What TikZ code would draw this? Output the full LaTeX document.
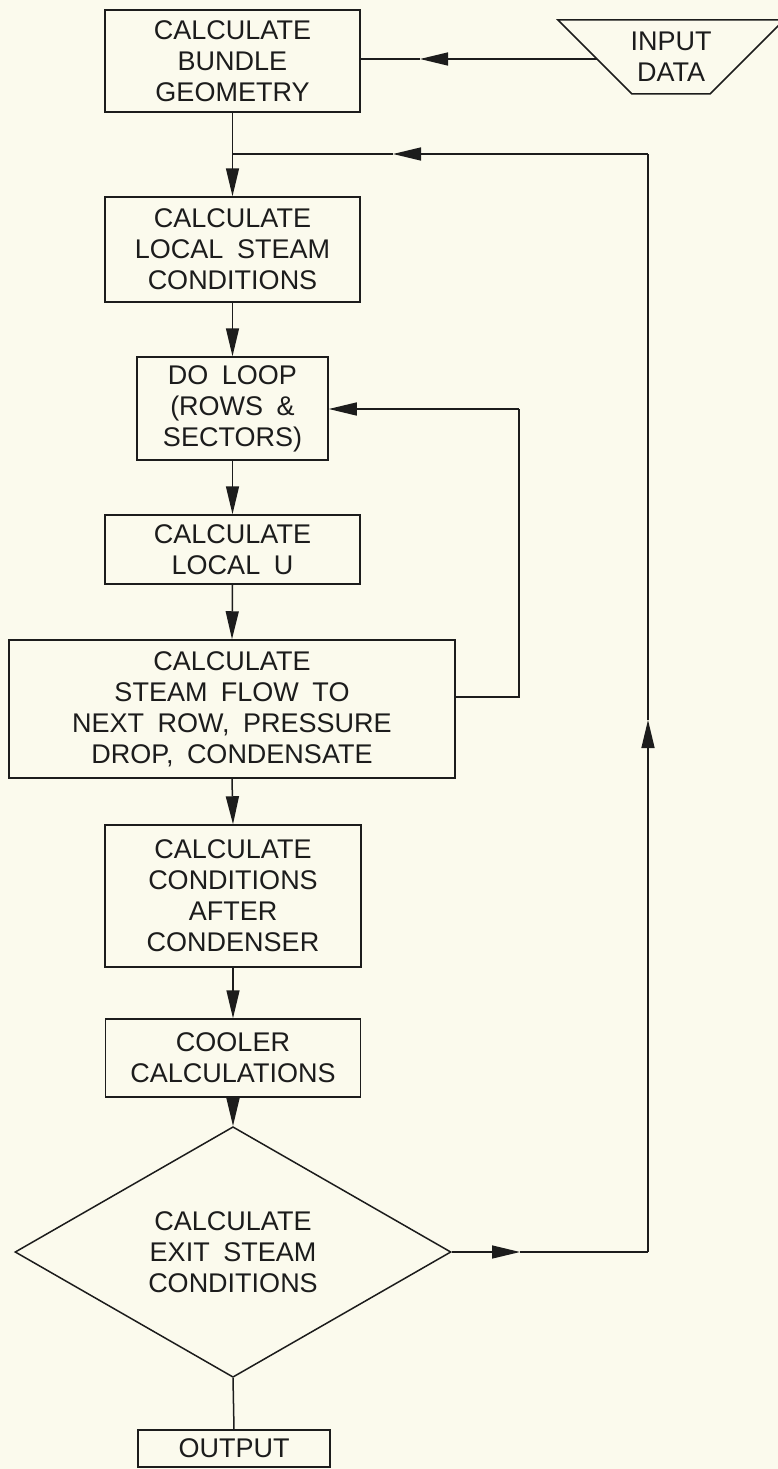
\documentclass[tikz,border=0pt]{standalone}
\usepackage{fontspec}
\setmainfont{Liberation Sans}
\usetikzlibrary{arrows.meta,shapes.geometric}
\definecolor{paper}{RGB}{251,250,237}
\definecolor{ink}{RGB}{28,28,28}
\newcommand{\lblfont}{\fontsize{27}{31}\selectfont\spaceskip=0.5em plus 0.1em minus 0.05em}
\begin{document}
\begin{tikzpicture}[x=1pt,y=-1pt,
  box/.style={draw=ink, line width=1.5pt, align=center, inner sep=0pt, text=ink, font=\lblfont},
  lbl/.style={align=center, inner sep=0pt, text=ink, font=\lblfont},
  arr/.style={draw=ink, line width=1.5pt, -{Triangle[length=28pt,width=13pt]}},
  ln/.style={draw=ink, line width=1.5pt}]
\fill[paper] (0,0) rectangle (778,1469);
\useasboundingbox (0,0) rectangle (778,1469);

% boxes
\node[box, minimum width=255pt, minimum height=102pt] (b1) at (232.5,61) {CALCULATE\\BUNDLE\\GEOMETRY};
\node[box, minimum width=255pt, minimum height=105pt] (b2) at (232.5,249.5) {CALCULATE\\LOCAL STEAM\\CONDITIONS};
\node[box, minimum width=191pt, minimum height=103pt] (b3) at (232.5,408.5) {DO LOOP\\(ROWS \&\\SECTORS)};
\node[box, minimum width=255pt, minimum height=69pt] (b4) at (232.5,549.5) {CALCULATE\\LOCAL U};
\node[box, minimum width=446pt, minimum height=138pt] (b5) at (232,709) {CALCULATE\\STEAM FLOW TO\\NEXT ROW, PRESSURE\\DROP, CONDENSATE};
\node[box, minimum width=256pt, minimum height=142pt] (b6) at (233,896) {CALCULATE\\CONDITIONS\\AFTER\\CONDENSER};
\node[box, minimum width=255pt, minimum height=78pt] (b7) at (233,1058) {COOLER\\CALCULATIONS};
\node[box, shape=diamond, minimum width=436pt, minimum height=242pt] (d) at (233,1252) {CALCULATE\\EXIT STEAM\\CONDITIONS};
\node[box, minimum width=192pt, minimum height=37pt] (out) at (234,1448.5) {OUTPUT};

% input trapezoid
\draw[ln] (558,20) -- (784,20) -- (710,94) -- (632,94) -- cycle;
\node[lbl] (inp) at (671,57) {INPUT\\DATA};
\coordinate (inL) at (597,59);
\coordinate (ia) at (420,59);
\draw[arr] (inL) -- (ia);
\draw[ln] (ia) -- (b1.east |- ia);

% main chain
\coordinate (j) at (232.5,154);
\draw[ln] (b1.south) -- (j);
\draw[arr] (j) -- (b2.north);
\draw[arr] (b2.south) -- (b3.north);
\draw[arr] (b3.south) -- (b4.north);
\draw[arr] (b4.south) -- (b5.north);
\draw[arr] (b5.south) -- (b6.north);
\draw[arr] (b6.south) -- (b7.north);
\draw[arr] (b7.south) -- (d.north);
\draw[ln] (d.south) -- (out.north);

% inner loop
\coordinate (r1) at (519,697);
\coordinate (r2) at (519,409);
\draw[ln] (b5.east |- r1) -- (r1) -- (r2);
\draw[arr] (r2) -- (b3.east |- r2);

% outer loop
\coordinate (m1) at (520,1252);
\coordinate (o1) at (648,1252);
\coordinate (m2) at (648,720);
\coordinate (o2) at (648,154);
\coordinate (m3) at (393,154);
\draw[arr] (d.east) -- (m1);
\draw[ln] (m1) -- (o1);
\draw[arr] (o1) -- (m2);
\draw[ln] (m2) -- (o2);
\draw[arr] (o2) -- (m3);
\draw[ln] (m3) -- (j);
\end{tikzpicture}
\end{document}
